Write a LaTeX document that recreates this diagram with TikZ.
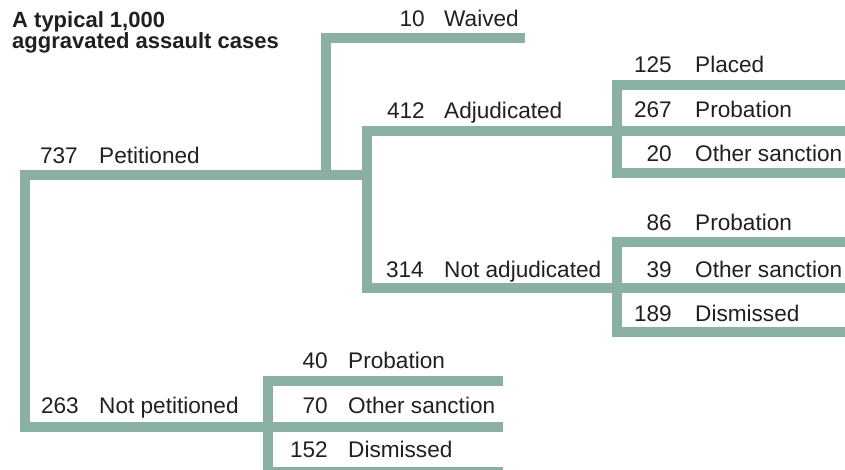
\documentclass[tikz,border=0pt]{standalone}
\usepackage{fontspec}
\setmainfont{Liberation Sans}
\definecolor{branch}{HTML}{8AB0A2}
\definecolor{ink}{HTML}{231F20}
\tikzset{
  x=1pt, y=-1pt,
  branchline/.style={draw=branch, line width=10pt, line cap=butt, line join=miter},
  num/.style={anchor=base east, inner sep=0pt, text=ink, font=\fontsize{22.6}{26}\selectfont},
  word/.style={anchor=base west, inner sep=0pt, text=ink, font=\fontsize{22.6}{26}\selectfont},
  titletext/.style={anchor=base west, inner sep=0pt, text=ink, font=\bfseries\fontsize{22}{26}\selectfont},
}
\begin{document}
\begin{tikzpicture}
\useasboundingbox (0,0) rectangle (845,470);
\clip (0,0) rectangle (845,470);
% junction coordinates
\coordinate (root) at (367,175);
\coordinate (rootcorner) at (25,175);
\coordinate (npcorner) at (25,427);
\coordinate (wv) at (326,175);
\coordinate (wvtop) at (326,38);
\coordinate (wvend) at (525,38);
\coordinate (adj) at (367,131);
\coordinate (nadj) at (367,288);
\coordinate (adjb) at (617,131);
\coordinate (nadjb) at (617,288);
\coordinate (pl1) at (617,85);
\coordinate (pl1e) at (845,85);
\coordinate (pr1e) at (845,131);
\coordinate (os1) at (617,173);
\coordinate (os1e) at (845,173);
\coordinate (pr2) at (617,242);
\coordinate (pr2e) at (845,242);
\coordinate (os2e) at (845,288);
\coordinate (ds2) at (617,332);
\coordinate (ds2e) at (845,332);
\coordinate (npb) at (268,427);
\coordinate (pr3) at (268,381);
\coordinate (pr3e) at (503,381);
\coordinate (os3e) at (503,427);
\coordinate (ds3) at (268,472);
\coordinate (ds3e) at (503,472);
% branches
\draw[branchline] (root) -- (rootcorner) -- (npcorner) -- (npb);
\draw[branchline] (wv) -- (wvtop) -- (wvend);
\draw[branchline] (adjb) -- (adj) -- (nadj) -- (nadjb);
\draw[branchline] (pl1e) -- (pl1) -- (os1) -- (os1e);
\draw[branchline] (adjb) -- (pr1e);
\draw[branchline] (pr2e) -- (pr2) -- (ds2) -- (ds2e);
\draw[branchline] (nadjb) -- (os2e);
\draw[branchline] (pr3e) -- (pr3) -- (ds3) -- (ds3e);
\draw[branchline] (npb) -- (os3e);
% title
\node[titletext] (t1) at (12,28) {A typical 1,000};
\node[titletext] (t2) at (12,49) {aggravated assault cases};
% labels
\node[num] (n10) at (425,27) {10};   \node[word] (w10) at (444,27) {Waived};
\node[num] (n412) at (425,119) {412}; \node[word] (w412) at (444,119) {Adjudicated};
\node[num] (n737) at (78,164) {737};  \node[word] (w737) at (99,164) {Petitioned};
\node[num] (n125) at (672,73) {125};  \node[word] (w125) at (695,73) {Placed};
\node[num] (n267) at (672,118) {267}; \node[word] (w267) at (695,118) {Probation};
\node[num] (n20) at (672,162) {20};   \node[word] (w20) at (695,162) {Other sanction};
\node[num] (n86) at (672,231) {86};   \node[word] (w86) at (695,231) {Probation};
\node[num] (n314) at (424,277) {314}; \node[word] (w314) at (444,277) {Not adjudicated};
\node[num] (n39) at (672,277) {39};   \node[word] (w39) at (695,277) {Other sanction};
\node[num] (n189) at (672,321) {189}; \node[word] (w189) at (695,321) {Dismissed};
\node[num] (n40) at (328,368) {40};   \node[word] (w40) at (348,368) {Probation};
\node[num] (n263) at (79,413) {263};  \node[word] (w263) at (99,413) {Not petitioned};
\node[num] (n70) at (328,413) {70};   \node[word] (w70) at (348,413) {Other sanction};
\node[num] (n152) at (328,457) {152}; \node[word] (w152) at (348,457) {Dismissed};
\end{tikzpicture}
\end{document}
